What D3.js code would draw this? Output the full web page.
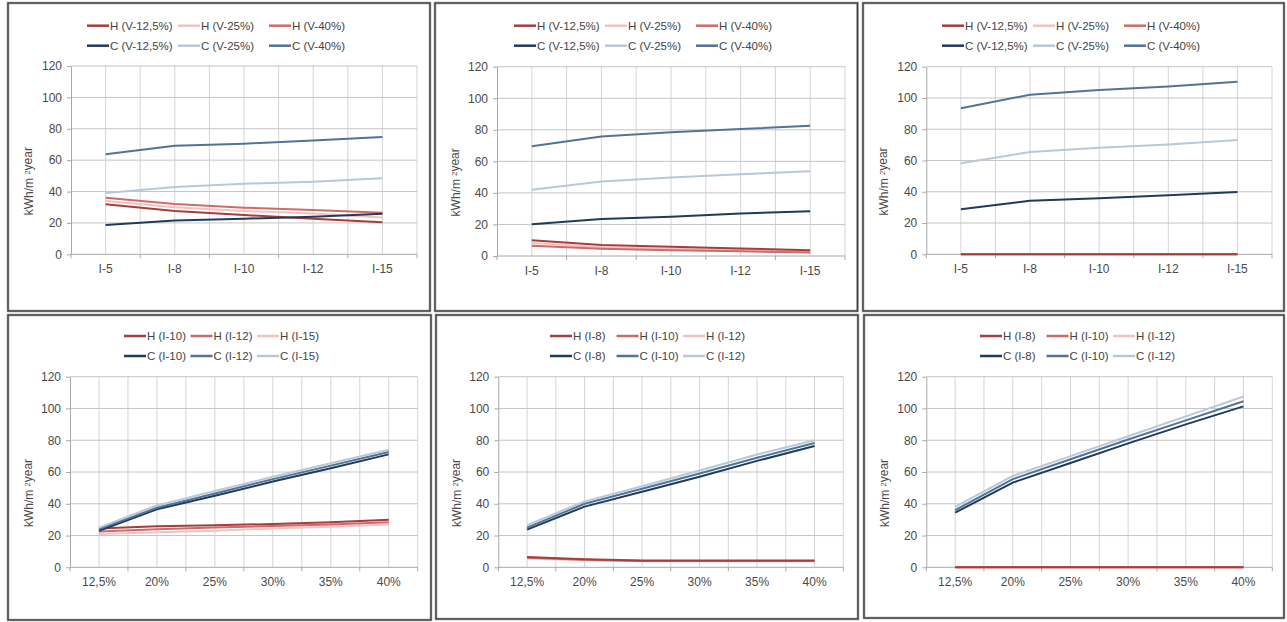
<!DOCTYPE html>
<html>
<head>
<meta charset="utf-8">
<script src="https://cdn.jsdelivr.net/npm/d3@7"></script>
<style>
  html, body { margin: 0; padding: 0; background: #fff; }
  svg { display: block; font-family: "Liberation Sans", Arial, Helvetica, sans-serif; }
</style>
</head>
<body>
<svg id="chart" width="1287" height="622"></svg>
<script>
// ---------- DATA ----------
const topCategories = ["I-5", "I-8", "I-10", "I-12", "I-15"];
const bottomCategories = ["12,5%", "20%", "25%", "30%", "35%", "40%"];
const yTicks = [0, 20, 40, 60, 80, 100, 120];
const yTitle = "kWh/m ²year";

const topNames = ["H (V-12,5%)", "H (V-25%)", "H (V-40%)", "C (V-12,5%)", "C (V-25%)", "C (V-40%)"];
const bottomNamesA = ["H (I-10)", "H (I-12)", "H (I-15)", "C (I-10)", "C (I-12)", "C (I-15)"];
const bottomNamesB = ["H (I-8)", "H (I-10)", "H (I-12)", "C (I-8)", "C (I-10)", "C (I-12)"];

// Panel 1 (top left)
const p1_H125 = [31.9, 27.6, 25.0, 22.7, 20.4];
const p1_H25  = [34.0, 30.0, 27.6, 26.0, 23.5];
const p1_H40  = [36.1, 32.0, 29.7, 28.2, 26.5];
const p1_C125 = [18.7, 21.5, 22.7, 24.0, 25.9];
const p1_C25  = [39.1, 42.9, 45.0, 46.3, 48.4];
const p1_C40  = [63.7, 69.2, 70.5, 72.6, 74.8];

// Panel 2 (top middle)
const p2_H125 = [10.0, 7.0, 5.8, 4.8, 3.6];
const p2_H25  = [8.2, 5.6, 4.6, 3.8, 2.8];
const p2_H40  = [6.5, 4.6, 3.6, 3.0, 2.2];
const p2_C125 = [20.1, 23.5, 24.9, 27.0, 28.3];
const p2_C25  = [42.0, 47.3, 49.7, 51.8, 53.7];
const p2_C40  = [69.5, 75.8, 78.4, 80.5, 82.6];

// Panel 3 (top right)
const p3_H125 = [0, 0, 0, 0, 0];
const p3_H25  = [0, 0, 0, 0, 0];
const p3_H40  = [0, 0, 0, 0, 0];
const p3_C125 = [28.8, 34.3, 35.8, 37.7, 39.9];
const p3_C25  = [58.2, 65.4, 68.2, 70.3, 73.1];
const p3_C40  = [93.4, 102.1, 105.1, 107.4, 110.4];

// Panel 4 (bottom left)
const p4_H10 = [24.5, 25.8, 26.4, 27.3, 28.3, 30.0];
const p4_H12 = [22.5, 24.0, 25.0, 26.0, 27.0, 28.3];
const p4_H15 = [21.0, 22.0, 23.0, 24.5, 25.5, 27.0];
const p4_C10 = [23.0, 36.5, 45.0, 54.0, 62.3, 71.1];
const p4_C12 = [24.0, 37.5, 46.5, 55.5, 64.0, 72.6];
const p4_C15 = [25.0, 39.0, 48.0, 57.0, 65.5, 74.0];

// Panel 5 (bottom middle)
const p5_H8  = [6.5, 5.0, 4.3, 4.3, 4.3, 4.3];
const p5_H10 = [6.0, 4.8, 4.0, 4.0, 4.0, 4.0];
const p5_H12 = [5.5, 4.5, 3.8, 3.8, 3.8, 3.8];
const p5_C8  = [23.7, 38.2, 47.6, 57.0, 67.0, 76.4];
const p5_C10 = [25.0, 40.0, 49.5, 59.0, 69.0, 78.3];
const p5_C12 = [26.5, 41.5, 51.0, 61.0, 71.0, 80.0];

// Panel 6 (bottom right)
const p6_H8  = [0, 0, 0, 0, 0, 0];
const p6_H10 = [0, 0, 0, 0, 0, 0];
const p6_H12 = [0, 0, 0, 0, 0, 0];
const p6_C8  = [34.4, 53.3, 65.7, 78.0, 90.0, 101.3];
const p6_C10 = [36.0, 55.5, 68.0, 80.5, 92.5, 104.5];
const p6_C12 = [38.0, 57.5, 70.0, 82.5, 95.0, 107.5];

// ---------- STYLES ----------
const H_DARK = "#a83c3c", H_MED = "#cd6b68", H_LIGHT = "#f0c2c0";
const C_DARK = "#1f3b5b", C_MED = "#537396", C_LIGHT = "#b9c8d9";
const topColors = [H_DARK, H_LIGHT, H_MED, C_DARK, C_LIGHT, C_MED];
const bottomColors = [H_DARK, H_MED, H_LIGHT, C_DARK, C_MED, C_LIGHT];
// drawing order: H series light-to-dark (dark on top), then C series
const topDrawOrder = [1, 2, 0, 3, 4, 5];
const bottomDrawOrder = [2, 1, 0, 3, 4, 5];

const panels = [
  { box: [8, 3, 430, 311], plot: [71, 66, 417, 254.3], cats: topCategories, names: topNames, colors: topColors, order: topDrawOrder,
    series: [p1_H125, p1_H25, p1_H40, p1_C125, p1_C25, p1_C40], legX: 79, legY: 25.7, legStep: 91 },
  { box: [435, 3, 857.5, 311], plot: [497, 66.7, 845, 256], cats: topCategories, names: topNames, colors: topColors, order: topDrawOrder,
    series: [p2_H125, p2_H25, p2_H40, p2_C125, p2_C25, p2_C40], legX: 79, legY: 25.7, legStep: 91 },
  { box: [863, 3, 1284, 311], plot: [926.3, 66.7, 1272, 254.3], cats: topCategories, names: topNames, colors: topColors, order: topDrawOrder,
    series: [p3_H125, p3_H25, p3_H40, p3_C125, p3_C25, p3_C40], legX: 79, legY: 25.7, legStep: 91 },
  { box: [8, 315, 431, 620], plot: [70, 376.7, 417.7, 567.3], cats: bottomCategories, names: bottomNamesA, colors: bottomColors, order: bottomDrawOrder,
    series: [p4_H10, p4_H12, p4_H15, p4_C10, p4_C12, p4_C15], legX: 116, legY: 336, legStep: 66.5 },
  { box: [436, 315, 858, 619], plot: [498.3, 376.7, 843.3, 567.3], cats: bottomCategories, names: bottomNamesB, colors: bottomColors, order: bottomDrawOrder,
    series: [p5_H8, p5_H10, p5_H12, p5_C8, p5_C10, p5_C12], legX: 114, legY: 336, legStep: 66.5 },
  { box: [864, 315, 1284, 618], plot: [926.3, 376.7, 1272.3, 567.3], cats: bottomCategories, names: bottomNamesB, colors: bottomColors, order: bottomDrawOrder,
    series: [p6_H8, p6_H10, p6_H12, p6_C8, p6_C10, p6_C12], legX: 116, legY: 336, legStep: 66.5 }
];

const svg = d3.select("#chart");

panels.forEach(p => {
  const g = svg.append("g");
  const [bx0, by0, bx1, by1] = p.box;
  const [left, top, right, bottom] = p.plot;

  // frame
  g.append("rect").attr("x", bx0).attr("y", by0).attr("width", bx1 - bx0).attr("height", by1 - by0)
    .attr("fill", "none").attr("stroke", "#a8a8a8").attr("stroke-width", 2.6);
  g.append("rect").attr("x", bx0).attr("y", by0).attr("width", bx1 - bx0).attr("height", by1 - by0)
    .attr("fill", "none").attr("stroke", "#3c3c3c").attr("stroke-width", 1.3);

  const x = d3.scalePoint().domain(p.cats).range([left, right]).padding(0.5);
  const y = d3.scaleLinear().domain([0, 120]).range([bottom, top]);
  const step = x.step();

  // vertical gridlines at every half step
  const vg = d3.range(1, p.cats.length * 2 + 1).map(i => left + i * step / 2);
  g.selectAll(null).data(vg).enter().append("line")
    .attr("x1", d => d).attr("x2", d => d).attr("y1", top).attr("y2", bottom)
    .attr("stroke", "#d4d4d4").attr("stroke-width", 1);

  // horizontal gridlines
  g.selectAll(null).data(yTicks.filter(t => t > 0)).enter().append("line")
    .attr("x1", left).attr("x2", right).attr("y1", d => y(d)).attr("y2", d => y(d))
    .attr("stroke", "#c4c4c4").attr("stroke-width", 1);

  // y axis
  const ya = g.append("g").attr("transform", `translate(${left},0)`)
    .call(d3.axisLeft(y).tickValues(yTicks).tickSize(4).tickSizeOuter(0).tickPadding(5));
  ya.select(".domain").attr("stroke", "#a8a8a8");
  ya.selectAll(".tick line").attr("stroke", "#a8a8a8");
  ya.selectAll(".tick text").attr("fill", "#4a4a4a").attr("font-size", 12)
    .attr("font-family", "Liberation Sans, Arial, sans-serif");

  // x axis
  g.append("line").attr("x1", left).attr("x2", right).attr("y1", bottom).attr("y2", bottom)
    .attr("stroke", "#a8a8a8").attr("stroke-width", 1);
  const edges = d3.range(0, p.cats.length + 1).map(i => left + i * step);
  g.selectAll(null).data(edges).enter().append("line")
    .attr("x1", d => d).attr("x2", d => d).attr("y1", bottom).attr("y2", bottom + 4)
    .attr("stroke", "#a8a8a8");
  g.selectAll(null).data(p.cats).enter().append("text")
    .attr("x", d => x(d)).attr("y", bottom + 18.5)
    .attr("text-anchor", "middle").attr("font-size", 12).attr("fill", "#4a4a4a")
    .text(d => d);

  // y title
  const tcx = bx0 + 20.5, tcy = (top + bottom) / 2 + 21;
  const tt = g.append("text").attr("transform", `translate(${tcx},${tcy}) rotate(-90)`)
    .attr("text-anchor", "middle").attr("dy", "0.35em").attr("font-size", 12).attr("fill", "#4a4a4a");
  tt.append("tspan").text("kWh/m ");
  tt.append("tspan").attr("font-size", 7.5).attr("dy", "-0.35em").text("2");
  tt.append("tspan").attr("dy", "0.2em").text("year");

  // lines
  const line = d3.line().x((d, i) => x(p.cats[i])).y(d => y(d));
  p.order.forEach(k => {
    g.append("path").datum(p.series[k]).attr("d", line).attr("fill", "none")
      .attr("stroke", p.colors[k]).attr("stroke-width", 2).attr("stroke-linejoin", "round");
  });

  // legend
  p.names.forEach((n, k) => {
    const row = Math.floor(k / 3), col = k % 3;
    const lx = bx0 + p.legX + col * p.legStep;
    const ly = p.legY + row * 20;
    g.append("line").attr("x1", lx).attr("x2", lx + 22).attr("y1", ly).attr("y2", ly)
      .attr("stroke", p.colors[k]).attr("stroke-width", 2.5);
    g.append("text").attr("x", lx + 23).attr("y", ly + 4.3).attr("font-size", 11.5)
      .attr("fill", "#444").text(n);
  });
});
</script>
</body>
</html>
